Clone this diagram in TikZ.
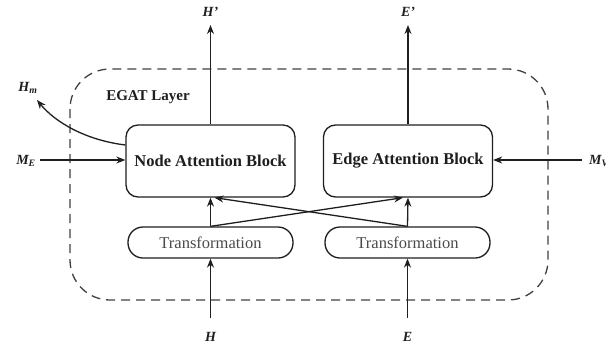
\documentclass[tikz,border=0pt]{standalone}
\usepackage{fontspec}
\setmainfont{Liberation Serif}
\usetikzlibrary{arrows.meta}
\definecolor{ink}{HTML}{1E1E1E}
\definecolor{soft}{HTML}{4A4A4A}
\tikzset{
  block/.style={draw=ink, line width=1.3pt, rounded corners=12pt, minimum width=169pt, minimum height=72pt, font=\fontsize{16.5}{18}\selectfont\bfseries, text=ink, inner sep=0pt},
  trans/.style={draw=ink, line width=1.3pt, rounded corners=15pt, minimum width=165pt, minimum height=31pt, font=\fontsize{16.5}{18}\selectfont, text=soft, inner sep=0pt},
  lab/.style={font=\fontsize{14}{16}\selectfont\bfseries\itshape, text=ink, inner sep=0pt},
  conn/.style={draw=ink, line width=1.3pt, -{Stealth[length=9pt,width=7pt]}},
  frame/.style={draw=ink!85, line width=1.3pt, dash pattern=on 9pt off 6pt, rounded corners=40pt}
}
\begin{document}
\begin{tikzpicture}[x=1pt,y=-1pt]
\useasboundingbox (0,0) rectangle (606,349);
\draw[frame] (70,69) rectangle (548,300);
\node[font=\fontsize{15}{17}\selectfont\bfseries, text=ink, inner sep=0pt] (egat) at (148,97) {EGAT Layer};
\node[block] (nb) at (210.5,161) {Node Attention Block};
\node[block] (eb) at (408,161) {Edge Attention Block};
\node[trans] (tl) at (210.5,242.5) {Transformation};
\node[trans] (tr) at (407.5,242.5) {Transformation};
% inputs
\node[lab] (h) at (210.5,337) {H};
\node[lab] (e) at (407.5,337) {E};
\coordinate (hin) at (210.5,318);
\coordinate (ein) at (407.5,318);
\draw[conn] (hin) -- (tl.south);
\draw[conn] (ein) -- (tr.south);
% transformation to blocks
\draw[conn] (tl.north) -- (nb.south);
\draw[conn] (tr.north) -- (eb.south);
\draw[conn] (tl.north) -- ([xshift=-5pt]eb.south);
\draw[conn] (tr.north) -- ([xshift=4pt]nb.south);
% outputs
\node[lab] (hp) at (210.5,12) {H'};
\node[lab] (ep) at (408,12) {E'};
\coordinate (hout) at (210.5,25);
\coordinate (eout) at (408,25);
\draw[conn] (nb.north) -- (hout);
\draw[conn] (eb.north) -- (eout);
% side inputs
\node[lab] (me) at (26,161) {M\textsubscript{E}};
\coordinate (mein) at (40,160);
\draw[conn] (mein) -- (nb.west |- mein);
\node[lab, anchor=west] (mv) at (589,161) {M\textsubscript{V}};
\coordinate (mvin) at (582,160);
\draw[conn] (mvin) -- (eb.east |- mvin);
% H_m output
\node[lab] (hm) at (28,88) {H\textsubscript{m}};
\coordinate (hmout) at (37,100);
\draw[conn] ([yshift=16pt]nb.west) .. controls (85,140) and (55,122) .. (hmout);
\end{tikzpicture}
\end{document}
